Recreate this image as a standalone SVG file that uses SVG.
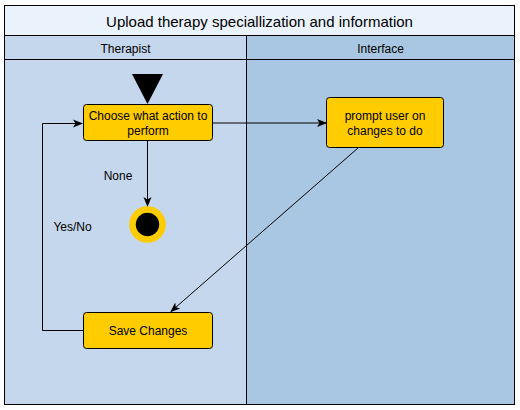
<svg xmlns="http://www.w3.org/2000/svg" width="520" height="410" viewBox="0 0 520 410">
<style>
.lbl{font-family:"Liberation Sans",Arial,sans-serif;font-size:12px;fill:#000;text-anchor:middle}
.box{fill:#FFCC00;stroke:#000;stroke-width:1}
.edge{fill:none;stroke:#000;stroke-width:1}
</style>
<defs>
<marker id="arr" viewBox="0 0 10 10" refX="9" refY="5" markerWidth="10" markerHeight="10" markerUnits="userSpaceOnUse" orient="auto">
<path d="M0,1 L10,5 L0,9 L2.5,5 Z" fill="#000"/>
</marker>
</defs>
<g id="pool">
<rect x="4.5" y="5.5" width="510" height="399" fill="#EAF2FB" stroke="#000"/>
<rect x="4.5" y="35.5" width="242" height="369" fill="#C5D7EC" stroke="#000"/>
<rect x="246.5" y="35.5" width="268" height="369" fill="#A9C7E2" stroke="#000"/>
<line x1="4.5" y1="59.5" x2="514.5" y2="59.5" stroke="#000"/>
<text x="259.5" y="27" class="lbl" style="font-size:15px">Upload therapy speciallization and information</text>
<text x="125.5" y="53" class="lbl">Therapist</text>
<text x="380.5" y="53" class="lbl">Interface</text>
</g>
<g id="edges">
<path class="edge" d="M147.5,141 V206" marker-end="url(#arr)"/>
<path class="edge" d="M213,123 H326" marker-end="url(#arr)"/>
<path class="edge" d="M358,148 L171,311.5" marker-end="url(#arr)"/>
<path class="edge" d="M83,330.5 H42.5 V123.5 H82" marker-end="url(#arr)"/>
<text x="118" y="180" class="lbl">None</text>
<text x="72.5" y="231" class="lbl">Yes/No</text>
</g>
<g id="start">
<polygon points="132,74 163,74 147.5,104" fill="#000"/>
</g>
<g id="choose">
<rect class="box" x="83.5" y="104.5" width="129" height="36" rx="3"/>
<text x="148" y="120" class="lbl">Choose what action to</text>
<text x="148" y="135" class="lbl">perform</text>
</g>
<g id="end">
<circle cx="147.5" cy="224.5" r="18.3" fill="#FFCC00"/>
<circle cx="147.5" cy="224.5" r="11.7" fill="#000"/>
</g>
<g id="prompt">
<rect class="box" x="326.5" y="97.5" width="117" height="50" rx="3"/>
<text x="385" y="120" class="lbl">prompt user on</text>
<text x="385" y="135" class="lbl">changes to do</text>
</g>
<g id="save">
<rect class="box" x="83.5" y="312.5" width="129" height="36" rx="3"/>
<text x="148" y="335" class="lbl">Save Changes</text>
</g>
</svg>
